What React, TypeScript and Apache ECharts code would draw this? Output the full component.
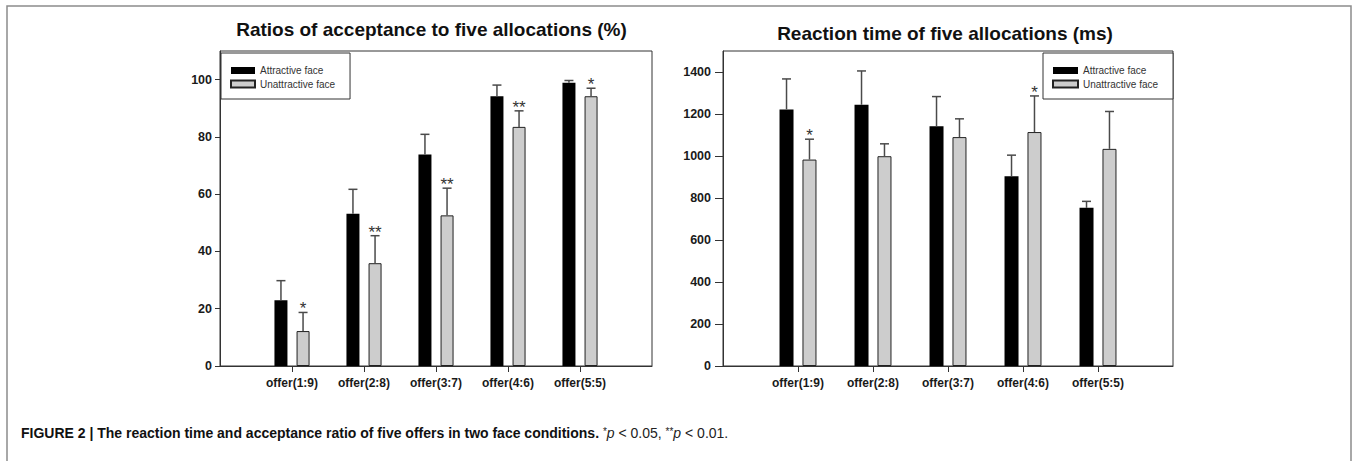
import React, { useEffect, useRef } from "react";
import * as echarts from "echarts";

const categories = ["offer(1:9)", "offer(2:8)", "offer(3:7)", "offer(4:6)", "offer(5:5)"];
const seriesNames = ["Attractive face", "Unattractive face"];

// Left chart: ratios of acceptance (%)
const accAttr = [23.0, 53.2, 73.9, 94.2, 98.9];
const accAttrErrTop = [29.8, 61.7, 80.9, 98.1, 99.7];
const accUnat = [12.2, 35.9, 52.6, 83.5, 94.2];
const accUnatErrTop = [18.7, 45.5, 62.1, 89.1, 97.0];
const accSig = ["*", "**", "**", "**", "*"];
const accTicks = [0, 20, 40, 60, 80, 100];

// Right chart: reaction time (ms)
const rtAttr = [1222, 1244, 1142, 904, 753];
const rtAttrErrTop = [1367, 1405, 1283, 1004, 784];
const rtUnat = [983, 999, 1090, 1114, 1034];
const rtUnatErrTop = [1080, 1058, 1177, 1286, 1212];
const rtSig = ["*", "", "", "*", ""];
const rtTicks = [0, 200, 400, 600, 800, 1000, 1200, 1400];

const FONT = "'Liberation Sans', Arial, sans-serif";
const padCats = ["", ...categories, ""];
const pad = (arr: number[]) => [null, ...arr, null];

function errorSeries(axisIdx: number, tops: number[], errs: number[], sig: string[], offset: number, cap: number) {
  return {
    type: "custom",
    xAxisIndex: axisIdx,
    yAxisIndex: axisIdx,
    silent: true,
    z: 5,
    data: tops.map((v, i) => [i + 1, v, errs[i]]),
    encode: { x: 0, y: [1, 2] },
    renderItem: (params: any, api: any) => {
      const i = params.dataIndex;
      const base = api.coord([api.value(0), api.value(1)]);
      const top = api.coord([api.value(0), api.value(2)]);
      const x = base[0] + offset;
      const stroke = { stroke: "#4a4a4a", lineWidth: 1.5 };
      const children: any[] = [
        { type: "line", shape: { x1: x, y1: base[1], x2: x, y2: top[1] }, style: stroke },
        { type: "line", shape: { x1: x - cap / 2, y1: top[1], x2: x + cap / 2, y2: top[1] }, style: stroke },
      ];
      if (sig[i]) {
        children.push({
          type: "text",
          x,
          y: top[1] + 5,
          style: { text: sig[i], fill: "#333", font: `17px ${FONT}`, align: "center", verticalAlign: "bottom" },
        });
      }
      return { type: "group", children };
    },
  };
}

export default function App() {
  const ref = useRef<HTMLDivElement>(null);
  useEffect(() => {
    if (!ref.current) return;
    const chart = echarts.init(ref.current, null, { renderer: "svg" });

    const leftBW = 13, leftGap = 0.7;
    const rightBW = 14, rightGap = 0.64;
    const leftOff = (leftBW + leftBW * leftGap) / 2;
    const rightOff = (rightBW + rightBW * rightGap) / 2;

    const yLabel = { fontFamily: FONT, fontWeight: "bold", fontSize: 12, color: "#1a1a1a" };

    const xAxis = (gridIndex: number) => ({
      type: "category",
      gridIndex,
      data: padCats,
      boundaryGap: false,
      axisLine: { show: true, lineStyle: { color: "#333", width: 1 } },
      axisTick: {
        show: true,
        length: 6,
        inside: false,
        interval: (_i: number, v: string) => v !== "",
        lineStyle: { color: "#333" },
      },
      axisLabel: { interval: 0, margin: 11, ...yLabel },
      splitLine: { show: false },
    });

    const yAxis = (gridIndex: number, max: number, ticks: number[], tickLen: number, margin: number) => ({
      type: "value",
      gridIndex,
      min: 0,
      max,
      axisLine: { show: true, lineStyle: { color: "#333", width: 1 } },
      axisTick: { show: true, length: tickLen, customValues: ticks, lineStyle: { color: "#333" } },
      axisLabel: { customValues: ticks, margin, formatter: (v: number) => String(v), ...yLabel, fontSize: 12.5 },
      splitLine: { show: false },
    });

    const legend = (left: number, itemWidth: number) => ({
      data: seriesNames,
      orient: "vertical",
      left,
      top: 53,
      padding: [12.5, 15, 10, 9],
      itemWidth,
      itemHeight: 7,
      itemGap: 3.5,
      icon: "rect",
      backgroundColor: "#fff",
      borderColor: "#333",
      borderWidth: 1,
      textStyle: { fontFamily: FONT, fontSize: 10, color: "#333", lineHeight: 10 },
      selectedMode: false,
    });

    const option: any = {
      animation: false,
      backgroundColor: "#fff",
      grid: [
        { left: 220, top: 51, width: 432, height: 315, show: true, borderColor: "#333", borderWidth: 1, backgroundColor: "transparent" },
        { left: 723, top: 51, width: 450, height: 315, show: true, borderColor: "#333", borderWidth: 1, backgroundColor: "transparent" },
      ],
      xAxis: [xAxis(0), xAxis(1)],
      yAxis: [yAxis(0, 110, accTicks, 5, 8), yAxis(1, 1500, rtTicks, 8, 12)],
      legend: [legend(221, 24), legend(1043, 25)],
      series: [
        {
          name: seriesNames[0], type: "bar", xAxisIndex: 0, yAxisIndex: 0, data: pad(accAttr),
          barWidth: leftBW, barGap: `${leftGap * 100}%`,
          itemStyle: { color: "#000", borderColor: "#000", borderWidth: 0 },
        },
        {
          name: seriesNames[1], type: "bar", xAxisIndex: 0, yAxisIndex: 0, data: pad(accUnat),
          barWidth: leftBW, barGap: `${leftGap * 100}%`,
          itemStyle: { color: "#cdcdcd", borderColor: "#222", borderWidth: 1 },
        },
        {
          name: seriesNames[0], type: "bar", xAxisIndex: 1, yAxisIndex: 1, data: pad(rtAttr),
          barWidth: rightBW, barGap: `${rightGap * 100}%`,
          itemStyle: { color: "#000", borderColor: "#000", borderWidth: 0 },
        },
        {
          name: seriesNames[1], type: "bar", xAxisIndex: 1, yAxisIndex: 1, data: pad(rtUnat),
          barWidth: rightBW, barGap: `${rightGap * 100}%`,
          itemStyle: { color: "#cdcdcd", borderColor: "#222", borderWidth: 1 },
        },
        errorSeries(0, accAttr, accAttrErrTop, ["", "", "", "", ""], -leftOff, 9),
        errorSeries(0, accUnat, accUnatErrTop, accSig, leftOff, 9),
        errorSeries(1, rtAttr, rtAttrErrTop, ["", "", "", "", ""], -rightOff, 9),
        errorSeries(1, rtUnat, rtUnatErrTop, rtSig, rightOff, 9),
      ],
      graphic: [
        {
          type: "rect",
          shape: { x: 7, y: 6, width: 1344, height: 520 },
          style: { fill: "none", stroke: "#8c8c8c", lineWidth: 1.5 },
          silent: true,
        },
        {
          type: "text",
          x: 431.5,
          y: 29,
          style: {
            text: "Ratios of acceptance to five allocations (%)",
            font: `bold 19px ${FONT}`,
            fill: "#111",
            align: "center",
            verticalAlign: "middle",
          },
        },
        {
          type: "text",
          x: 945,
          y: 33,
          style: {
            text: "Reaction time of five allocations (ms)",
            font: `bold 19px ${FONT}`,
            fill: "#111",
            align: "center",
            verticalAlign: "middle",
          },
        },
        {
          type: "text",
          x: 21,
          y: 433,
          style: {
            text:
              "{b|FIGURE 2 | The reaction time and acceptance ratio of five offers in two face conditions.}{n| }{s|*}{i|p}{n| < 0.05, }{s|**}{i|p}{n| < 0.01.}",
            verticalAlign: "middle",
            rich: {
              b: { font: `bold 14px ${FONT}`, fill: "#111" },
              n: { font: `14px ${FONT}`, fill: "#222" },
              i: { font: `italic 14px ${FONT}`, fill: "#222" },
              s: { font: `10px ${FONT}`, fill: "#222", verticalAlign: "top" },
            },
          },
        },
      ],
    };

    chart.setOption(option);
    return () => chart.dispose();
  }, []);

  return (
    <div
      ref={ref}
      style={{ position: "absolute", left: 0, top: 0, width: 1357, height: 461, background: "#fff" }}
    />
  );
}
